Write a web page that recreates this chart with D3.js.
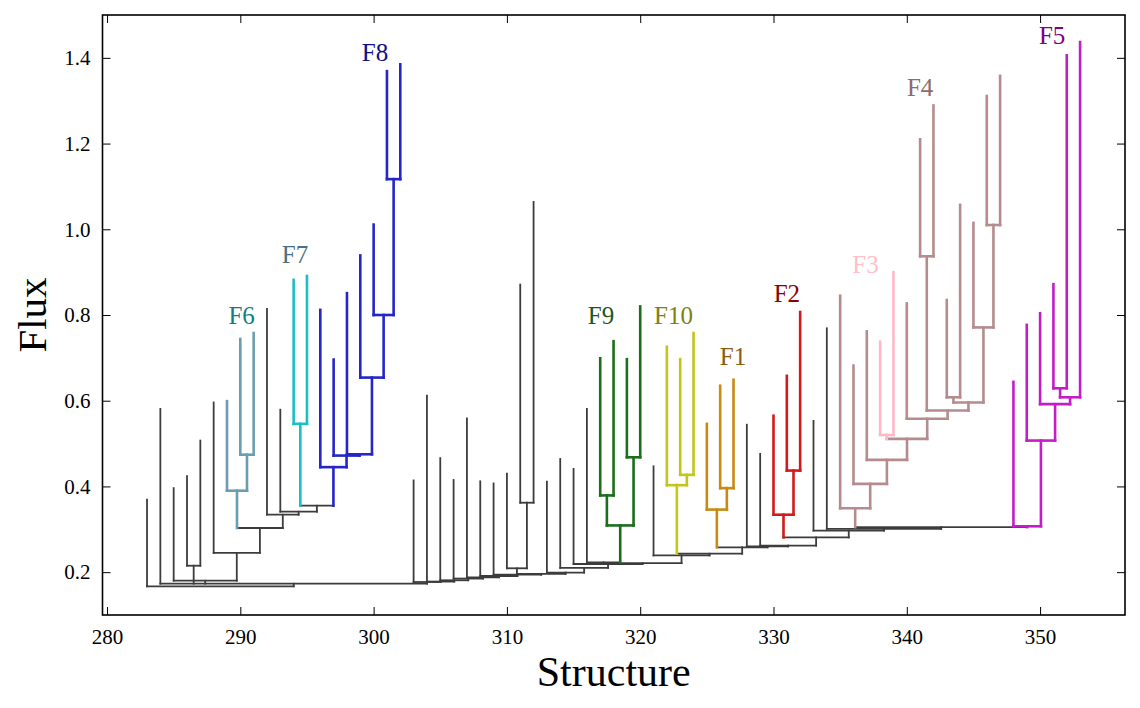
<!DOCTYPE html>
<html><head><meta charset="utf-8">
<script src="https://cdn.jsdelivr.net/npm/d3@7"></script>
<style>body{margin:0;background:#fff;} svg{display:block;}</style>
</head><body>
<svg id="chart" width="1140" height="708"></svg>
<script>
// ---------------- DATA ----------------
// Leaves, in plotted order (their number is their position on the "Structure" axis)
const leafIds = [283,284,285,286,287,288,289,290,291,292,293,294,295,296,297,298,299,300,301,302,
  303,304,305,306,307,308,309,310,311,312,313,314,315,316,317,318,319,320,321,322,323,324,325,326,327,
  328,329,330,331,332,333,334,335,336,337,338,339,340,341,342,343,344,345,346,347,348,349,350,351,352,353];
// Peak flux of each leaf
const leafPeaks = [0.369,0.581,0.396,0.424,0.507,0.596,0.599,0.744,0.758,0.814,0.579,0.882,0.891,0.812,0.696,0.851,0.939,1.011,1.369,1.385,
  0.414,0.612,0.466,0.415,0.559,0.412,0.407,0.430,0.871,1.064,0.411,0.464,0.441,0.581,0.699,0.739,0.697,0.820,0.447,0.726,0.697,0.758,0.546,0.635,0.649,
  0.544,0.476,0.565,0.658,0.807,0.553,0.769,0.845,0.682,0.762,0.738,0.900,0.827,1.210,1.289,0.835,1.057,1.015,1.311,1.358,0.644,0.777,0.804,0.872,1.406,1.437];
// Branches: name, children (left to right), merge level (flux)
const branchIds = [
  "root","X","A","C","D","F","G","H","I","J","K","F7b","L","S","T","P","Q","R",
  "RG0","RG1","RG2","RG3","RG4","RG5","RG6","RG7","V","W","RG8","RG9","NA","NB","NC",
  "F9b","F9x","F9y","ND","NE","F10b","F10x","NF","F1b","F1x","NG","NH","NI","F2b","F2x","NJ","NK","NL",
  "F4b","F4a","F4c","F4d","F3b","F4e","F4f","F4g","F4h","F4i","F4j","F4k",
  "F5b","F5a","F5c","F5d","F5e"];
const branchChildren = [
  [283,"X"],[284,"A","C","RG0"],[286,287],[285,"D"],[288,"F"],["G","I"],[289,"H"],[290,291],[292,"J"],[293,"K"],["F7b","L"],[294,295],[296,"S"],[297,"T"],[298,"P"],[299,"Q"],[300,"R"],[301,302],
  [303,"RG1"],[304,"RG2"],[305,"RG3"],[306,"RG4"],[307,"RG5"],[308,"RG6"],[309,"RG7"],["V","RG8"],[310,"W"],[311,312],[313,"RG9"],[314,"NA"],[315,"NB"],["NC","ND"],[316,"F9b"],
  ["F9x","F9y"],[317,318],[319,320],[321,"NE"],["F10b","NF"],[322,"F10x"],[323,324],["F1b","NG"],[325,"F1x"],[326,327],[328,"NH"],[329,"NI"],["F2b","NJ"],[330,"F2x"],[331,332],[333,"NK"],[334,"NL"],["F4b","F5b"],
  [335,"F4a"],[336,"F4c"],[337,"F4d"],["F3b","F4e"],[338,339],[340,"F4f"],["F4g","F4h"],[341,342],["F4i","F4j"],[343,344],[345,"F4k"],[346,347],
  [348,"F5a"],[349,"F5c"],[350,"F5d"],["F5e",353],[351,352]];
const branchLevels = [
  0.167,0.173,0.215,0.180,0.245,0.303,0.390,0.474,0.334,0.341,0.355,0.546,0.445,0.472,0.475,0.654,0.800,1.117,
  0.177,0.178,0.181,0.185,0.188,0.191,0.194,0.196,0.209,0.362,0.199,0.210,0.219,0.221,0.223,
  0.309,0.379,0.468,0.239,0.243,0.403,0.427,0.258,0.346,0.396,0.260,0.262,0.281,0.334,0.437,0.297,0.301,0.305,
  0.349,0.406,0.462,0.511,0.520,0.558,0.577,0.937,0.596,0.608,0.771,1.010,
  0.307,0.507,0.592,0.608,0.629];
// Families: label, root structure, line colour, label colour, label anchor (structure, flux)
const famNames  = ["F1","F2","F3","F4","F5","F6","F7","F8","F9","F10"];
const famRoots  = ["F1b","F2b","F3b","F4b","F5b","G","F7b","L","F9b","F10b"];
const famLine   = ["#c98a12","#d11a1a","#ffb8c6","#b48c8e","#c31dc8","#6b9db0","#1bbfc2","#2525c9","#1b6e1b","#c5c41a"];
const famText   = ["#8c5c10","#8b0000","#ffc0cb","#8d6a6c","#800080","#0e8080","#4b6f80","#10108a","#1a5a1a","#808010"];
const famLabelX = [326.96,331.0,336.9,341.0,350.9,290.1,294.1,300.1,317.06,322.5];
const famLabelY = [0.683,0.830,0.898,1.311,1.432,0.779,0.921,1.392,0.779,0.779];
// Axis ticks and limits
const xTicks = [280,290,300,310,320,330,340,350];
const yTicks = [0.2,0.4,0.6,0.8,1.0,1.2,1.4];
const xDomain = [279.66, 356.37];
const yDomain = [0.1, 1.5];

// ---------------- BUILD TREE ----------------
const nodes = new Map();
leafIds.forEach((id,i)=>nodes.set(String(id),{id:String(id),leaf:true,pos:id,level:leafPeaks[i],children:[]}));
branchIds.forEach((id,i)=>nodes.set(id,{id,leaf:false,level:branchLevels[i],childIds:branchChildren[i].map(String),children:[]}));
nodes.forEach(n=>{ if(!n.leaf){ n.children=n.childIds.map(c=>nodes.get(c)); n.children.forEach(c=>c.parent=n);} });
function position(n){ if(n.pos!==undefined) return n.pos; const c=n.children; n.pos=(position(c[0])+position(c[c.length-1]))/2; return n.pos; }
nodes.forEach(position);
const famIndex = new Map(famRoots.map((r,i)=>[r,i]));
function colour(n,f){ if(famIndex.has(n.id)) f=famIndex.get(n.id); n.fam=f; n.children.forEach(c=>colour(c,f)); }
colour(nodes.get("root"), -1);

// ---------------- DRAW ----------------
const svg = d3.select("#chart");
const L=102.5,R=1125,T=15,B=615;
const x = d3.scaleLinear().domain(xDomain).range([L,R]);
const y = d3.scaleLinear().domain(yDomain).range([B,T]);

const segs=[];
nodes.forEach(n=>{
  if(n.parent) segs.push({x1:n.pos,x2:n.pos,y1:n.parent.level,y2:n.level,fam:n.fam});
  if(!n.leaf) segs.push({x1:n.children[0].pos,x2:n.children[n.children.length-1].pos,y1:n.level,y2:n.level,fam:n.fam});
});
segs.sort((a,b)=>(a.fam>=0)-(b.fam>=0));
const g = svg.append("g");
g.selectAll("line").data(segs).join("line")
  .attr("x1",d=>x(d.x1)).attr("x2",d=>x(d.x2)).attr("y1",d=>y(d.y1)).attr("y2",d=>y(d.y2))
  .attr("stroke",d=>d.fam>=0?famLine[d.fam]:"#3c3c3c")
  .attr("stroke-width",d=>d.fam>=0?2.6:1.8)
  .attr("stroke-linecap","square");

svg.append("g").selectAll("text").data(famNames).join("text")
  .attr("x",(d,i)=>x(famLabelX[i])).attr("y",(d,i)=>y(famLabelY[i]))
  .attr("text-anchor","middle").attr("font-family","Liberation Serif, serif").attr("font-size",25)
  .attr("fill",(d,i)=>famText[i]).text(d=>d);

// Axes
const font="Liberation Serif, serif";
const ax = (sel)=>sel.call(s=>s.select(".domain").remove()).call(s=>s.selectAll("line").attr("stroke","#000").attr("stroke-width",1));
svg.append("g").attr("transform",`translate(0,${B})`).call(d3.axisBottom(x).tickValues(xTicks).tickSizeInner(-8).tickSizeOuter(0).tickPadding(14).tickFormat(d3.format("d"))).call(ax)
  .selectAll("text").attr("font-family",font).attr("font-size",21).attr("fill","#000");
svg.append("g").attr("transform",`translate(0,${T})`).call(d3.axisTop(x).tickValues(xTicks).tickSizeInner(-8).tickSizeOuter(0).tickFormat("")).call(ax);
svg.append("g").attr("transform",`translate(${L},0)`).call(d3.axisLeft(y).tickValues(yTicks).tickSizeInner(-8).tickSizeOuter(0).tickPadding(12).tickFormat(d3.format(".1f"))).call(ax)
  .selectAll("text").attr("font-family",font).attr("font-size",21).attr("fill","#000");
svg.append("g").attr("transform",`translate(${R},0)`).call(d3.axisRight(y).tickValues(yTicks).tickSizeInner(-8).tickSizeOuter(0).tickFormat("")).call(ax);
svg.append("rect").attr("x",L).attr("y",T).attr("width",R-L).attr("height",B-T).attr("fill","none").attr("stroke","#000").attr("stroke-width",1.6);

svg.append("text").attr("x",(L+R)/2).attr("y",686).attr("text-anchor","middle").attr("font-family",font).attr("font-size",42).text("Structure");
svg.append("text").attr("transform",`translate(46,${(T+B)/2}) rotate(-90)`).attr("text-anchor","middle").attr("font-family",font).attr("font-size",41).text("Flux");
</script>
</body></html>
